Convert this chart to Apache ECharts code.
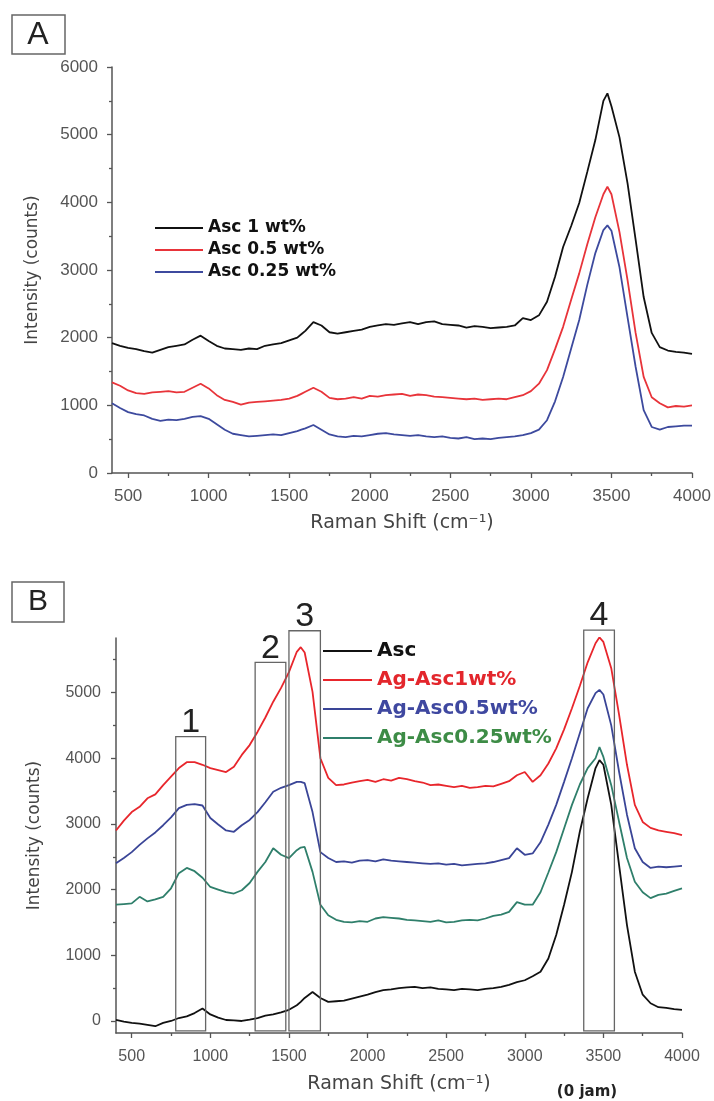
<!DOCTYPE html>
<html>
<head>
<meta charset="utf-8">
<script src="https://cdn.jsdelivr.net/npm/echarts@6/dist/echarts.min.js"></script>
<style>
html, body { margin: 0; padding: 0; background: #fff; }
#main { width: 714px; height: 1101px; }
</style>
</head>
<body>
<div id="main"></div>
<script>
// Raman shift (cm-1) sample points shared by all spectra
var ramanShift = [
	400, 450, 500, 550, 600, 650, 700, 750, 800, 850,
	900, 950, 1000, 1050, 1100, 1150, 1200, 1250, 1300, 1350,
	1400, 1450, 1500, 1550, 1575, 1600, 1650, 1700, 1750, 1800,
	1850, 1900, 1950, 2000, 2050, 2100, 2150, 2200, 2250, 2300,
	2350, 2400, 2450, 2500, 2550, 2600, 2650, 2700, 2750, 2800,
	2850, 2900, 2950, 3000, 3050, 3100, 3150, 3200, 3250, 3300,
	3350, 3400, 3450, 3475, 3500, 3550, 3600, 3650, 3700, 3750,
	3800, 3850, 3900, 3950, 4000
];

// panel A
var asc1 = [
	1920, 1880, 1850, 1830, 1800, 1780, 1820, 1860, 1880, 1900,
	1970, 2030, 1950, 1880, 1840, 1830, 1820, 1840, 1830, 1880,
	1900, 1920, 1960, 2000, 2050, 2100, 2230, 2180, 2080, 2060,
	2080, 2100, 2120, 2160, 2180, 2200, 2190, 2210, 2230, 2200,
	2230, 2240, 2200, 2190, 2180, 2150, 2170, 2160, 2140, 2150,
	2160, 2180, 2290, 2260, 2330, 2530, 2900, 3340, 3650, 3990,
	4450, 4920, 5500, 5610, 5420, 4960, 4280, 3450, 2600, 2070,
	1860, 1810, 1790, 1780, 1760
];
var asc05 = [
	1340, 1290, 1220, 1180, 1170, 1190, 1200, 1210, 1190, 1200,
	1260, 1320, 1250, 1150, 1080, 1050, 1010, 1040, 1050, 1060,
	1070, 1080, 1100, 1140, 1170, 1200, 1260, 1200, 1110, 1090,
	1100, 1120, 1100, 1140, 1130, 1150, 1160, 1170, 1140, 1160,
	1150, 1130, 1120, 1110, 1100, 1090, 1100, 1080, 1090, 1100,
	1090, 1120, 1150, 1210, 1320, 1520, 1830, 2160, 2560, 2950,
	3380, 3780, 4120, 4230, 4120, 3560, 2850, 2070, 1420, 1120,
	1030, 970, 990, 980, 1000
];
var asc025 = [
	1030, 960, 900, 870, 850, 800, 770, 790, 780, 800,
	830, 840, 800, 720, 640, 580, 560, 540, 550, 560,
	570, 560, 590, 620, 640, 660, 710, 640, 570, 540,
	530, 550, 540, 560, 580, 590, 570, 560, 550, 560,
	540, 530, 540, 520, 510, 530, 500, 510, 500, 520,
	530, 540, 560, 590, 640, 780, 1060, 1420, 1840, 2260,
	2780, 3250, 3590, 3660, 3580, 3040, 2300, 1570, 930, 680,
	640, 680, 690, 700, 700
];

// panel B
var asc = [
	15, -10, -30, -40, -60, -80, -30, 0, 45, 70,
	120, 190, 100, 50, 15, 10, 0, 20, 45, 80,
	100, 130, 170, 240, 290, 350, 440, 350, 290, 300,
	310, 340, 370, 400, 440, 470, 480, 500, 510, 520,
	500, 510, 490, 480, 470, 490, 480, 470, 490, 500,
	520, 550, 590, 620, 680, 750, 950, 1310, 1770, 2270,
	2880, 3390, 3850, 3970, 3900, 3290, 2370, 1460, 750, 400,
	270, 210, 200, 180, 170
];
var agAsc1 = [
	2900, 3050, 3180, 3260, 3390, 3450, 3590, 3720, 3850, 3940,
	3940, 3900, 3850, 3820, 3790, 3870, 4050, 4200, 4400, 4620,
	4860, 5070, 5310, 5620, 5690, 5610, 5010, 4000, 3700, 3590,
	3600, 3630, 3650, 3670, 3640, 3680, 3660, 3700, 3680, 3650,
	3630, 3590, 3600, 3580, 3560, 3580, 3550, 3560, 3580, 3570,
	3610, 3650, 3740, 3790, 3640, 3740, 3920, 4150, 4440, 4760,
	5100, 5460, 5750, 5840, 5770, 5370, 4660, 3900, 3290, 3030,
	2940, 2900, 2880, 2860, 2830
];
var agAsc05 = [
	2400, 2480, 2570, 2680, 2780, 2870, 2980, 3100, 3240, 3290,
	3300, 3280, 3090, 2990, 2900, 2880, 2980, 3060, 3180, 3330,
	3490, 3550, 3590, 3640, 3640, 3620, 3180, 2570, 2480, 2420,
	2430, 2410, 2440, 2450, 2430, 2460, 2440, 2430, 2420, 2410,
	2400, 2390, 2400, 2380, 2390, 2370, 2380, 2390, 2400, 2420,
	2450, 2480, 2630, 2530, 2550, 2720, 2990, 3290, 3640, 4000,
	4380, 4760, 4990, 5040, 4970, 4500, 3790, 3140, 2630, 2420,
	2330, 2350, 2340, 2350, 2360
];
var agAsc025 = [
	1770, 1780, 1790, 1890, 1820, 1850, 1890, 2020, 2250, 2330,
	2280, 2180, 2040, 2000, 1960, 1940, 1990, 2100, 2270, 2420,
	2630, 2530, 2480, 2600, 2640, 2650, 2270, 1770, 1610, 1540,
	1510, 1500, 1520, 1510, 1560, 1580, 1570, 1560, 1540, 1530,
	1520, 1510, 1530, 1500, 1510, 1530, 1540, 1530, 1560, 1600,
	1620, 1660, 1810, 1770, 1770, 1960, 2260, 2570, 2930, 3290,
	3600, 3850, 4000, 4170, 4020, 3590, 3030, 2480, 2120, 1960,
	1870, 1920, 1940, 1980, 2020
];

// marked bands in panel B: [from, to, top]
var bands = [[780, 970, 4330], [1285, 1480, 5460], [1500, 1700, 5940], [3375, 3570, 5950]];
var bandLabels = ['1', '2', '3', '4'];
var bandBottom = -150;

var xTicks = [500, 1000, 1500, 2000, 2500, 3000, 3500, 4000];
var xMinorTicks = [750, 1250, 1750, 2250, 2750, 3250, 3750];
var yTicksB = [0, 1000, 2000, 3000, 4000, 5000];
var yMinorTicksB = [500, 1500, 2500, 3500, 4500, 5500];

function pairs(ys) {
	return ramanShift.map(function (x, i) { return [x, ys[i]]; });
}
function plain(v) { return String(v); }

var axisColor = '#555';
var labelFont = 'Liberation Sans, Arial, sans-serif';
var titleFont = 'DejaVu Sans, sans-serif';

function xMajor(grid, labelSize, labelMargin, nameGap) {
	return {
		gridIndex: grid, type: 'value', position: 'bottom', min: 400, max: 4000,
		axisLine: { onZero: false, lineStyle: { color: axisColor, width: 1.5 } },
		axisTick: { customValues: xTicks, length: 5, lineStyle: { color: axisColor, width: 1.3 } },
		axisLabel: { customValues: xTicks, formatter: plain, margin: labelMargin, color: '#555', fontSize: labelSize, fontFamily: labelFont },
		splitLine: { show: false },
		name: 'Raman Shift (cm\u207B\u00B9)', nameLocation: 'middle', nameGap: nameGap,
		nameTextStyle: { fontFamily: titleFont, fontSize: 19, color: '#444' }
	};
}
function xMinor(grid) {
	return {
		gridIndex: grid, type: 'value', position: 'bottom', min: 400, max: 4000,
		axisLine: { show: false, onZero: false },
		axisTick: { customValues: xMinorTicks, length: 3, lineStyle: { color: axisColor, width: 1.3 } },
		axisLabel: { show: false }, splitLine: { show: false }
	};
}
var yName = {
	name: 'Intensity (counts)', nameLocation: 'middle', nameRotate: 90,
	nameTextStyle: { fontFamily: titleFont, fontSize: 17, color: '#444' }
};

function line(name, data, color, xi, yi) {
	return {
		name: name, type: 'line', xAxisIndex: xi, yAxisIndex: yi, data: pairs(data),
		showSymbol: false, symbol: 'none', animation: false,
		lineStyle: { color: color, width: 1.8 }, itemStyle: { color: color }
	};
}

var chart = echarts.init(document.getElementById('main'));
chart.setOption({
	animation: false,
	backgroundColor: '#fff',
	grid: [
		{ left: 112, top: 67, width: 580, height: 406, outerBoundsMode: 'none' },
		{ left: 116, top: 638, width: 566, height: 395, outerBoundsMode: 'none' }
	],
	xAxis: [xMajor(0, 17, 15, 41), xMinor(0), xMajor(1, 16, 16, 42), xMinor(1)],
	yAxis: [
		Object.assign({
			gridIndex: 0, type: 'value', position: 'left', min: 0, max: 6000, interval: 1000,
			axisLine: { show: true, onZero: false, lineStyle: { color: axisColor, width: 1.5 } },
			axisTick: { show: true, length: 5, lineStyle: { color: axisColor, width: 1.3 } },
			minorTick: { show: true, splitNumber: 2, length: 3, lineStyle: { color: axisColor, width: 1.3 } },
			axisLabel: { formatter: plain, margin: 14, color: '#555', fontSize: 17, fontFamily: labelFont },
			splitLine: { show: false }, nameGap: 71
		}, yName),
		Object.assign({
			gridIndex: 1, type: 'value', position: 'left', min: -183, max: 5830,
			axisLine: { show: true, onZero: false, lineStyle: { color: axisColor, width: 1.5 } },
			axisTick: { show: true, customValues: yTicksB, length: 5, lineStyle: { color: axisColor, width: 1.3 } },
			axisLabel: { customValues: yTicksB, formatter: plain, margin: 15, color: '#555', fontSize: 16, fontFamily: labelFont },
			splitLine: { show: false }, nameGap: 73
		}, yName),
		{
			gridIndex: 1, type: 'value', position: 'left', min: -183, max: 5830,
			axisLine: { show: false, onZero: false },
			axisTick: { show: true, customValues: yMinorTicksB, length: 3, lineStyle: { color: axisColor, width: 1.3 } },
			axisLabel: { show: false }, splitLine: { show: false }
		}
	],
	legend: [
		{
			data: ['Asc 1 wt%', 'Asc 0.5 wt%', 'Asc 0.25 wt%'],
			orient: 'vertical', left: 155, top: 218, padding: 0,
			icon: 'rect', itemWidth: 48, itemHeight: 2, itemGap: 2, selectedMode: false,
			textStyle: { fontFamily: titleFont, fontWeight: 'bold', fontSize: 17, lineHeight: 20, color: '#111' }
		},
		{
			data: [
				{ name: 'Asc', textStyle: { color: '#111' } },
				{ name: 'Ag-Asc1wt%', textStyle: { color: '#e3262c' } },
				{ name: 'Ag-Asc0.5wt%', textStyle: { color: '#3f48a0' } },
				{ name: 'Ag-Asc0.25wt%', textStyle: { color: '#3d8c46' } }
			],
			orient: 'vertical', left: 323, top: 640, padding: 0,
			icon: 'rect', itemWidth: 49, itemHeight: 2, itemGap: 7, selectedMode: false,
			textStyle: { fontFamily: titleFont, fontWeight: 'bold', fontSize: 20, lineHeight: 22 }
		}
	],
	graphic: [
		{ type: 'rect', shape: { x: 12, y: 15, width: 53, height: 39 }, style: { fill: 'none', stroke: '#666', lineWidth: 1.5 } },
		{ type: 'text', x: 38, y: 35, style: { text: 'A', fontSize: 32, fontFamily: labelFont, fill: '#222', align: 'center', verticalAlign: 'middle' } },
		{ type: 'rect', shape: { x: 12, y: 582, width: 52, height: 40 }, style: { fill: 'none', stroke: '#666', lineWidth: 1.5 } },
		{ type: 'text', x: 38, y: 602, style: { text: 'B', fontSize: 30, fontFamily: labelFont, fill: '#222', align: 'center', verticalAlign: 'middle' } },
		{ type: 'text', x: 587, y: 1092, style: { text: '(0 jam)', fontSize: 15, fontWeight: 'bold', fontFamily: titleFont, fill: '#222', align: 'center', verticalAlign: 'middle' } }
	],
	series: [
		line('Asc 1 wt%', asc1, '#111', 0, 0),
		line('Asc 0.5 wt%', asc05, '#e8343a', 0, 0),
		line('Asc 0.25 wt%', asc025, '#3d4a9e', 0, 0),
		line('Asc', asc, '#111', 2, 1),
		line('Ag-Asc1wt%', agAsc1, '#e8262c', 2, 1),
		line('Ag-Asc0.5wt%', agAsc05, '#3a4597', 2, 1),
		line('Ag-Asc0.25wt%', agAsc025, '#2f7f6b', 2, 1),
		{
			type: 'custom', xAxisIndex: 2, yAxisIndex: 1, data: bands, clip: false, silent: true, z: 5,
			encode: { x: [0, 1], y: 2 },
			renderItem: function (params, api) {
				var p1 = api.coord([api.value(0), api.value(2)]);
				var p2 = api.coord([api.value(1), bandBottom]);
				return {
					type: 'group',
					children: [
						{ type: 'rect', shape: { x: p1[0], y: p1[1], width: p2[0] - p1[0], height: p2[1] - p1[1] },
							style: { fill: 'none', stroke: '#666', lineWidth: 1.3 } },
						{ type: 'text', x: (p1[0] + p2[0]) / 2, y: p1[1] + 3,
							style: { text: bandLabels[params.dataIndex], fontSize: 34, fontFamily: labelFont, fill: '#222', align: 'center', verticalAlign: 'bottom' } }
					]
				};
			}
		}
	]
});
</script>
</body>
</html>
